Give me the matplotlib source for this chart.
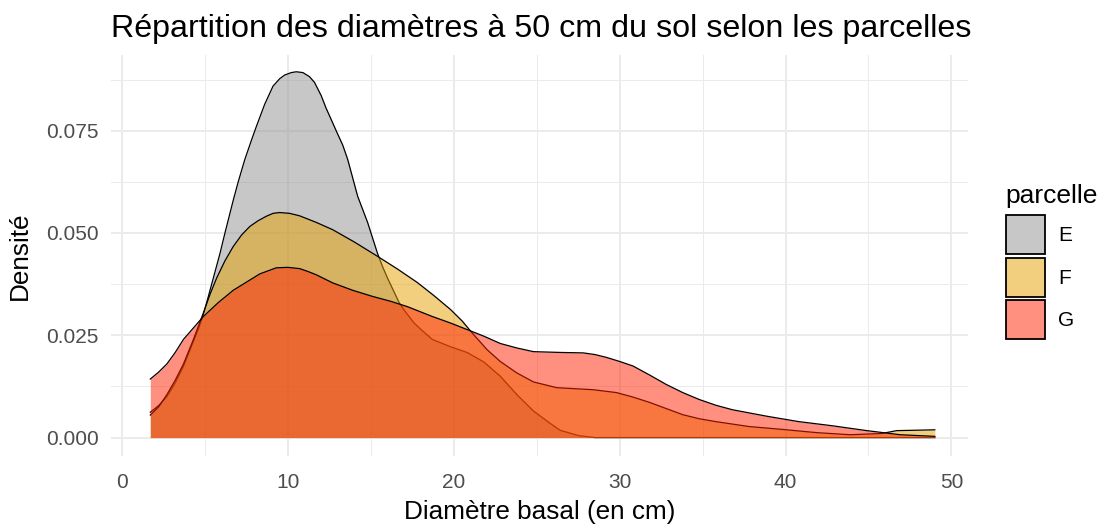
import matplotlib
matplotlib.use("Agg")
import matplotlib.pyplot as plt
from matplotlib.patches import Patch
from matplotlib.colors import to_rgba

plt.rcParams['font.family'] = ['Liberation Sans', 'DejaVu Sans']

# density curves (diameter in cm -> density)
e_x = [1.7, 2.2, 2.7, 3.2, 3.7, 4.2, 4.6, 4.9, 5.2, 5.5, 5.9, 6.2, 6.7, 7.0, 7.4,
       7.8, 8.1, 8.6, 9.1, 9.5, 9.8, 10.2, 10.5, 10.9, 11.3, 11.6, 12.0, 12.3,
       12.95, 13.3, 13.6, 13.9, 14.2, 14.5, 14.8, 15.1, 15.4, 15.7, 16.0, 16.35,
       16.7, 17.0, 17.3, 17.6, 18.0, 18.7, 19.8, 20.8, 21.8, 22.8, 23.8, 24.8,
       25.8, 26.4, 27.5, 28.5, 49.0]
e_y = [0.0062, 0.0078, 0.0100, 0.0133, 0.0174, 0.0225, 0.0265, 0.0300, 0.0345,
       0.0390, 0.0450, 0.0500, 0.0580, 0.0625, 0.0680, 0.0727, 0.0761, 0.0815,
       0.0859, 0.0877, 0.0886, 0.0892, 0.0894, 0.0892, 0.0882, 0.0868, 0.0836,
       0.0805, 0.0746, 0.0715, 0.0680, 0.0635, 0.0590, 0.0558, 0.0526, 0.0488,
       0.0450, 0.0418, 0.0390, 0.0360, 0.0330, 0.0312, 0.0296, 0.0280, 0.0265,
       0.0240, 0.0222, 0.0208, 0.0185, 0.0150, 0.0105, 0.0065, 0.0035, 0.0018,
       0.0005, 0.0, 0.0]

f_x = [1.7, 2.2, 2.7, 3.2, 3.7, 4.3, 4.9, 5.3, 5.7, 6.2, 6.7, 7.2, 7.7, 8.2, 8.7,
       9.1, 9.5, 10.1, 10.7, 11.7, 12.7, 14.0, 15.4, 16.6, 17.8, 18.8, 19.8, 20.5,
       21.1, 22.0, 22.8, 23.8, 24.8, 26.2, 28.4, 29.8, 30.8, 31.8, 32.8, 33.8,
       34.8, 35.8, 37.8, 39.8, 41.9, 43.9, 45.8, 46.7, 49.0]
f_y = [0.0055, 0.0075, 0.0105, 0.0140, 0.0180, 0.0240, 0.0305, 0.0350, 0.0390,
       0.0432, 0.0467, 0.0495, 0.0516, 0.0530, 0.0541, 0.0548, 0.0550, 0.0548,
       0.0542, 0.0526, 0.0508, 0.0478, 0.0443, 0.0412, 0.0379, 0.0347, 0.0313,
       0.0285, 0.0256, 0.0215, 0.0186, 0.0158, 0.0136, 0.0122, 0.0117, 0.0110,
       0.0099, 0.0086, 0.0071, 0.0056, 0.0046, 0.0039, 0.0027, 0.0020, 0.0012,
       0.0007, 0.0010, 0.0017, 0.0019]

g_x = [1.7, 2.2, 2.7, 3.2, 3.7, 4.3, 4.9, 5.8, 6.7, 7.5, 8.3, 9.3, 10.0, 10.7,
       11.2, 11.7, 12.7, 13.9, 15.1, 16.2, 17.2, 18.7, 19.8, 20.8, 21.8, 22.8,
       23.8, 24.8, 26.5, 27.8, 28.5, 29.2, 30.0, 30.8, 31.8, 32.8, 33.8, 34.8,
       35.8, 36.8, 38.9, 40.8, 42.8, 44.9, 46.9, 49.0]
g_y = [0.0143, 0.0160, 0.0180, 0.0208, 0.0240, 0.0268, 0.0296, 0.0330, 0.0360,
       0.0380, 0.0400, 0.0415, 0.0416, 0.0413, 0.0406, 0.0398, 0.0378, 0.0360,
       0.0345, 0.0333, 0.0320, 0.0296, 0.0280, 0.0264, 0.0248, 0.0230, 0.0219,
       0.0210, 0.0208, 0.0207, 0.0203, 0.0196, 0.0186, 0.0175, 0.0153, 0.0130,
       0.0110, 0.0093, 0.0079, 0.0068, 0.0052, 0.0039, 0.0029, 0.0017, 0.0007,
       0.0003]

labels = ['E', 'F', 'G']
colors = ['#919191', '#E69F00', '#FF2000']
alpha = 0.5

x_ticks = [0, 10, 20, 30, 40, 50]
y_ticks = [0.000, 0.025, 0.050, 0.075]
y_tick_labels = ['0.000', '0.025', '0.050', '0.075']

fig = plt.figure(figsize=(11.02, 5.28), dpi=100)
ax = fig.add_axes([111 / 1102, 1 - 456 / 528, (968 - 111) / 1102, (456 - 55) / 528])

grid_col = '#ebebeb'
for v in [5, 15, 25, 35, 45]:
    ax.axvline(v, color=grid_col, lw=0.7, zorder=0)
for v in [0.0125, 0.0375, 0.0625, 0.0875]:
    ax.axhline(v, color=grid_col, lw=0.7, zorder=0)
for v in x_ticks:
    ax.axvline(v, color=grid_col, lw=1.4, zorder=0)
for v in y_ticks:
    ax.axhline(v, color=grid_col, lw=1.4, zorder=0)

for xs, ys, c in zip([e_x, f_x, g_x], [e_y, f_y, g_y], colors):
    ax.fill_between(xs, 0, ys, color=c, alpha=alpha, lw=0, zorder=2)
    ax.plot(xs, ys, color='black', lw=0.9, zorder=2)

ax.set_xlim(-0.67, 51.0)
ax.set_ylim(-0.0045, 0.0935)
ax.set_xticks(x_ticks)
ax.set_xticklabels([str(t) for t in x_ticks])
ax.set_yticks(y_ticks)
ax.set_yticklabels(y_tick_labels)
ax.tick_params(length=0, labelsize=15, labelcolor='#4d4d4d')
ax.tick_params(axis='x', pad=12)
ax.tick_params(axis='y', pad=9)
for s in ax.spines.values():
    s.set_visible(False)

ax.set_xlabel('Diamètre basal (en cm)', fontsize=18.8, labelpad=6)
ax.set_ylabel('Densité', fontsize=18.8, labelpad=10)
fig.text(111 / 1102, 1 - 29 / 528, 'Répartition des diamètres à 50 cm du sol selon les parcelles',
         fontsize=23.2, ha='left', va='center')

handles = [Patch(facecolor=to_rgba(c, alpha), edgecolor='black', lw=1.3) for c in colors]
leg = fig.legend(handles, labels, title='parcelle', loc='upper left',
                 bbox_to_anchor=(987 / 1102, 1 - 165 / 528), frameon=False,
                 fontsize=15, title_fontsize=19, handlelength=1.9,
                 handleheight=2.5, labelspacing=0.16, handletextpad=0.6)
leg._legend_box.align = 'left'
leg._legend_box.sep = 5.5

fig.savefig('out.png', dpi=100)
